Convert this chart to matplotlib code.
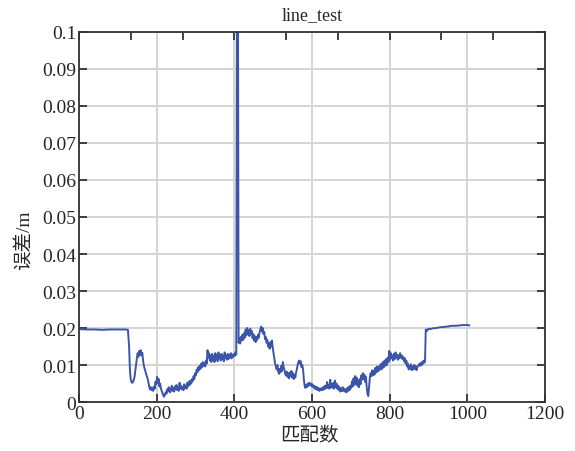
import numpy as np
import matplotlib.pyplot as plt
from matplotlib.ticker import MultipleLocator

# flat section before the first drop
head_idx = [0, 20, 40, 60, 80, 100, 120, 126]
head_err = [0.0197, 0.0196, 0.0196, 0.0195, 0.0196, 0.0196, 0.0196, 0.0195]

# noisy middle section, one sample every 2 matches starting at 129
mid_start = 129
mid_err = [
    0.0150, 0.0090, 0.0062, 0.0054, 0.0052, 0.0054, 0.0060, 0.0068, 0.0085, 0.0102, 0.0118, 0.0132,
    0.0122, 0.0138, 0.0128, 0.0140, 0.0126, 0.0133, 0.0112, 0.0098, 0.0090, 0.0082, 0.0075, 0.0068,
    0.0062, 0.0052, 0.0040, 0.0034, 0.0040, 0.0032, 0.0038, 0.0030, 0.0042, 0.0036, 0.0055, 0.0048,
    0.0068, 0.0052, 0.0062, 0.0042, 0.0050, 0.0036, 0.0030, 0.0024, 0.0018, 0.0014, 0.0020, 0.0026,
    0.0022, 0.0034, 0.0028, 0.0040, 0.0030, 0.0026, 0.0036, 0.0044, 0.0030, 0.0038, 0.0028, 0.0042,
    0.0034, 0.0046, 0.0032, 0.0040, 0.0030, 0.0052, 0.0036, 0.0044, 0.0034, 0.0040, 0.0032, 0.0048,
    0.0038, 0.0044, 0.0036, 0.0052, 0.0042, 0.0055, 0.0046, 0.0058, 0.0050, 0.0062, 0.0056, 0.0070,
    0.0062, 0.0078, 0.0072, 0.0088, 0.0080, 0.0094, 0.0086, 0.0098, 0.0090, 0.0104, 0.0094, 0.0108,
    0.0098, 0.0106, 0.0096, 0.0112, 0.0104, 0.0140, 0.0120, 0.0132, 0.0112, 0.0126, 0.0108, 0.0130,
    0.0114, 0.0124, 0.0108, 0.0132, 0.0116, 0.0126, 0.0110, 0.0134, 0.0118, 0.0128, 0.0112, 0.0130,
    0.0116, 0.0124, 0.0110, 0.0134, 0.0118, 0.0126, 0.0114, 0.0130, 0.0116, 0.0128, 0.0120, 0.0132,
    0.0118, 0.0128, 0.0122, 0.0130, 0.0124, 0.0134, 0.0128, 0.1300, 0.1300, 0.0160, 0.0172, 0.0158,
    0.0176, 0.0166, 0.0182, 0.0168, 0.0186, 0.0174, 0.0196, 0.0180, 0.0200, 0.0184, 0.0194, 0.0178,
    0.0198, 0.0186, 0.0192, 0.0172, 0.0184, 0.0166, 0.0178, 0.0162, 0.0176, 0.0168, 0.0182, 0.0174,
    0.0188, 0.0196, 0.0204, 0.0190, 0.0200, 0.0184, 0.0190, 0.0170, 0.0176, 0.0160, 0.0168, 0.0150,
    0.0158, 0.0144, 0.0162, 0.0150, 0.0166, 0.0146, 0.0132, 0.0118, 0.0104, 0.0096, 0.0088, 0.0100,
    0.0082, 0.0076, 0.0090, 0.0080, 0.0098, 0.0084, 0.0108, 0.0094, 0.0088, 0.0076, 0.0072, 0.0082,
    0.0068, 0.0078, 0.0064, 0.0080, 0.0070, 0.0084, 0.0066, 0.0078, 0.0062, 0.0074, 0.0066, 0.0080,
    0.0088, 0.0100, 0.0108, 0.0112, 0.0104, 0.0110, 0.0094, 0.0100, 0.0088, 0.0062, 0.0044, 0.0038,
    0.0046, 0.0040, 0.0050, 0.0044, 0.0052, 0.0046, 0.0050, 0.0042, 0.0048, 0.0040, 0.0044, 0.0036,
    0.0042, 0.0034, 0.0040, 0.0032, 0.0038, 0.0030, 0.0036, 0.0032, 0.0038, 0.0032, 0.0040, 0.0034,
    0.0044, 0.0036, 0.0040, 0.0054, 0.0038, 0.0046, 0.0036, 0.0060, 0.0040, 0.0048, 0.0038, 0.0052,
    0.0036, 0.0058, 0.0040, 0.0050, 0.0036, 0.0044, 0.0032, 0.0040, 0.0028, 0.0036, 0.0030, 0.0040,
    0.0030, 0.0036, 0.0028, 0.0034, 0.0026, 0.0038, 0.0030, 0.0042, 0.0032, 0.0044, 0.0038, 0.0056,
    0.0042, 0.0064, 0.0046, 0.0070, 0.0050, 0.0066, 0.0044, 0.0058, 0.0040, 0.0062, 0.0048, 0.0072,
    0.0060, 0.0078, 0.0062, 0.0074, 0.0054, 0.0068, 0.0038, 0.0022, 0.0016, 0.0040, 0.0066, 0.0078,
    0.0070, 0.0086, 0.0072, 0.0084, 0.0074, 0.0092, 0.0080, 0.0096, 0.0082, 0.0094, 0.0086, 0.0100,
    0.0088, 0.0104, 0.0090, 0.0108, 0.0094, 0.0112, 0.0098, 0.0116, 0.0100, 0.0120, 0.0108, 0.0138,
    0.0114, 0.0132, 0.0118, 0.0126, 0.0112, 0.0130, 0.0116, 0.0134, 0.0120, 0.0128, 0.0114, 0.0126,
    0.0118, 0.0132, 0.0120, 0.0126, 0.0116, 0.0122, 0.0110, 0.0118, 0.0104, 0.0112, 0.0096, 0.0104,
    0.0088, 0.0098, 0.0090, 0.0102, 0.0086, 0.0096, 0.0088, 0.0100, 0.0090, 0.0098, 0.0086, 0.0094,
    0.0096, 0.0100, 0.0104, 0.0098, 0.0106, 0.0100, 0.0110, 0.0104, 0.0112, 0.0108,
]

# plateau after the jump near 893
tail_idx = [893, 896, 900, 905, 910, 920, 930, 940, 950, 960, 970, 980, 990, 1000, 1005]
tail_err = [0.0196, 0.0192, 0.0198, 0.0197, 0.0199, 0.0200, 0.0202, 0.0203, 0.0204,
            0.0206, 0.0206, 0.0207, 0.0208, 0.0208, 0.0207]

mid_idx = list(range(mid_start, mid_start + 2 * len(mid_err), 2))
idx = np.array(head_idx + mid_idx + tail_idx)
err = np.array(head_err + mid_err + tail_err)

plt.rcParams['font.family'] = ['Liberation Serif', 'Noto Sans CJK SC']

fig = plt.figure(figsize=(5.75, 4.52), dpi=100)
ax = fig.add_axes([0.1374, 0.1084, 0.8104, 0.8186])

ax.plot(idx, err, color='#3b55a8', lw=1.4)

ax.set_xlim(0, 1200)
ax.set_ylim(0, 0.1)
ax.xaxis.set_major_locator(MultipleLocator(200))
ax.xaxis.set_minor_locator(MultipleLocator(400 / 3))
ax.xaxis.remove_overlapping_locs = False
ax.set_yticks(np.arange(0, 0.1001, 0.01))
ax.set_yticklabels(['0'] + ['%.2f' % v for v in np.arange(0.01, 0.1001, 0.01)[:-1]] + ['0.1'])

ax.grid(True, color='#d4d4d4', lw=1.4)
ax.set_axisbelow(True)

for s in ax.spines.values():
    s.set_color('#333333')
    s.set_linewidth(1.3)

ax.tick_params(which='major', direction='in', length=6, width=1.3, color='#333333',
               top=False, right=True, labelsize=14, labelcolor='#262626', pad=2)
ax.tick_params(which='minor', direction='in', length=6, width=1.3, color='#333333',
               bottom=False, top=True)

ax.set_title('line_test', fontsize=13, color='#262626', pad=9)
ax.set_xlabel('匹配数', fontsize=14, color='#262626')
ax.set_ylabel('误差/m', fontsize=14, color='#262626')
ax.xaxis.set_label_coords(0.495, -0.066)
ax.yaxis.set_label_coords(-0.098, 0.44)

fig.savefig('out.png', dpi=100)
